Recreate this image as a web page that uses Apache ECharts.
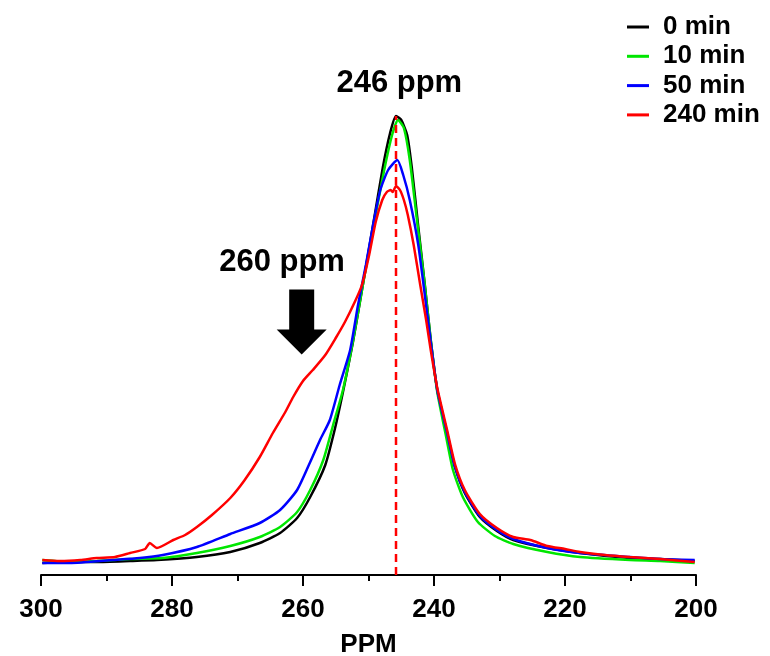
<!DOCTYPE html>
<html><head><meta charset="utf-8">
<script src="https://cdn.jsdelivr.net/npm/echarts@6/dist/echarts.min.js"></script>
<style>html,body{margin:0;padding:0;background:#fff}#c{width:770px;height:656px}</style>
</head><body><div id="c"></div>
<script>
const seriesNames = ['0 min', '10 min', '50 min', '240 min'];
const seriesColors = ['#000000', '#00e600', '#0000ff', '#ff0000'];
const xTicks = [300, 280, 260, 240, 220, 200];
const peakPPM = 245.8;
const peakTop = 91.8;

const min0 = [[299.8,2.4],[295.6,2.6],[291.5,2.6],[286.4,2.8],[282.3,3.0],[276.2,3.6],[271.1,4.6],[266.6,6.4],[263.5,8.4],[260.9,11.4],[258.9,15.6],[256.6,22.0],[255.1,29.4],[253.9,36.6],[252.4,46.4],[251.0,57.0],[249.3,70.0],[247.8,81.6],[246.7,88.4],[245.8,91.8],[245.0,91.0],[244.1,88.0],[243.4,81.6],[242.4,69.6],[241.4,58.0],[240.5,47.0],[239.5,37.0],[238.0,28.4],[236.8,21.6],[235.3,16.4],[233.0,11.6],[230.4,8.8],[227.9,7.0],[222.7,5.4],[217.7,4.4],[210.1,3.4],[205.5,3.2],[200.2,2.8]];
const min10 = [[299.8,3.0],[295.6,2.6],[291.5,2.8],[286.4,3.2],[281.4,3.4],[276.2,4.4],[271.1,5.8],[266.6,7.6],[263.5,9.6],[260.9,12.6],[258.9,17.0],[256.9,23.0],[255.4,30.0],[253.9,37.0],[252.4,46.6],[251.0,57.0],[249.2,70.0],[247.6,81.0],[246.4,88.0],[245.5,91.0],[244.6,89.4],[243.7,83.0],[242.6,71.0],[241.5,59.0],[240.5,47.0],[239.5,36.6],[238.2,28.0],[237.1,21.0],[235.6,15.6],[233.3,10.6],[230.7,7.8],[227.9,6.2],[222.7,4.6],[217.7,3.6],[210.1,3.0],[205.5,2.8],[200.2,2.4]];
const min50 = [[299.8,2.4],[295.6,2.4],[289.0,3.0],[284.9,3.4],[281.4,4.0],[276.2,5.6],[271.1,8.2],[266.6,10.4],[263.5,13.0],[260.9,17.0],[258.9,22.6],[257.4,27.0],[255.9,31.0],[254.4,38.0],[252.8,45.0],[251.6,54.0],[250.4,62.0],[249.3,70.0],[248.2,77.0],[247.0,81.0],[245.6,83.0],[244.7,80.0],[243.7,75.0],[242.4,66.0],[241.4,56.0],[240.5,46.6],[239.5,37.0],[238.0,28.4],[236.8,21.6],[235.3,16.6],[233.0,11.8],[230.4,9.0],[227.9,7.2],[222.7,5.4],[217.7,4.4],[210.1,3.6],[205.5,3.2],[200.2,3.0]];
const min240 = [[299.8,3.0],[297.1,2.8],[294.0,3.0],[291.5,3.4],[288.7,3.6],[286.4,4.4],[284.1,5.2],[283.4,6.4],[282.3,5.4],[279.8,7.0],[278.0,8.0],[276.2,9.6],[273.9,12.0],[271.1,15.4],[268.9,19.0],[266.6,23.6],[264.6,28.4],[262.7,32.6],[261.5,35.6],[260.0,38.8],[258.5,41.0],[256.6,44.0],[255.0,47.4],[253.6,50.6],[252.1,54.6],[251.0,58.0],[249.9,64.0],[248.9,70.6],[247.9,75.0],[247.2,76.6],[246.6,77.0],[246.3,76.6],[245.8,77.8],[245.2,77.0],[244.6,75.0],[244.0,72.0],[243.1,66.0],[242.1,58.0],[241.2,51.0],[240.5,45.0],[239.5,37.4],[238.0,29.0],[236.8,22.2],[235.3,17.0],[233.0,12.2],[230.4,9.4],[227.9,7.6],[225.3,7.0],[222.7,5.8],[220.0,5.2],[217.7,4.6],[213.9,4.0],[210.1,3.6],[205.5,3.2],[200.2,2.6]];
const allData = [min0, min10, min50, min240];

const FONT = 'Arial, "Liberation Sans", sans-serif';
const chart = echarts.init(document.getElementById('c'), null, {renderer: 'canvas'});

const series = allData.map((d, i) => ({
  name: seriesNames[i], type: 'line', data: d, symbol: 'none', smooth: 0.2,
  lineStyle: {color: seriesColors[i], width: 2.5}, itemStyle: {color: seriesColors[i]},
  z: 2 + i, animation: false
}));
series.push({
  name: 'marker', type: 'line', data: [[peakPPM, 0], [peakPPM, peakTop]], symbol: 'none',
  lineStyle: {color: '#ff0000', width: 2.5, type: [8, 5]}, z: 10, animation: false,
  markPoint: {
    animation: false,
    data: [
      {coord: [245.3, 98.4], symbol: 'rect', symbolSize: 0,
       label: {show: true, formatter: '246 ppm', color: '#000', fontFamily: FONT, fontWeight: 'bold', fontSize: 31, position: 'inside'}},
      {coord: [263.2, 62.6], symbol: 'rect', symbolSize: 0,
       label: {show: true, formatter: '260 ppm', color: '#000', fontFamily: FONT, fontWeight: 'bold', fontSize: 31, position: 'inside'}},
      {coord: [260.2, 50.6], symbol: 'path://M12.5,0 L37.5,0 L37.5,40 L50,40 L25,65 L0,40 L12.5,40 Z',
       symbolSize: [50, 65], itemStyle: {color: '#000'}, label: {show: false}}
    ]
  }
});

chart.setOption({
  backgroundColor: '#fff',
  animation: false,
  grid: {left: 41, right: 74, top: 75, bottom: 81, containLabel: false, outerBoundsMode: 'none'},
  legend: {
    data: seriesNames, orient: 'vertical', left: 622, top: 9, itemGap: 3.3,
    icon: 'rect', itemWidth: 22, itemHeight: 3,
    textStyle: {fontFamily: FONT, fontWeight: 'bold', fontSize: 26, color: '#000', lineHeight: 26, padding: [0, 0, 0, 9]}
  },
  xAxis: {
    type: 'value', min: 200, max: 300, interval: 20, inverse: true,
    name: 'PPM', nameLocation: 'middle', nameGap: 57,
    nameTextStyle: {fontFamily: FONT, fontWeight: 'bold', fontSize: 26, color: '#000'},
    axisLine: {show: true, lineStyle: {color: '#000', width: 2}},
    axisTick: {show: true, inside: false, length: 11, lineStyle: {color: '#000', width: 2}},
    minorTick: {show: true, splitNumber: 2, length: 6, lineStyle: {color: '#000', width: 2}},
    splitLine: {show: false},
    axisLabel: {fontFamily: FONT, fontWeight: 'bold', fontSize: 26, color: '#000', margin: 22,
      formatter: v => xTicks.includes(v) ? String(v) : ''}
  },
  yAxis: {type: 'value', min: 0, max: 100, show: false},
  series: series
});
</script></body></html>
